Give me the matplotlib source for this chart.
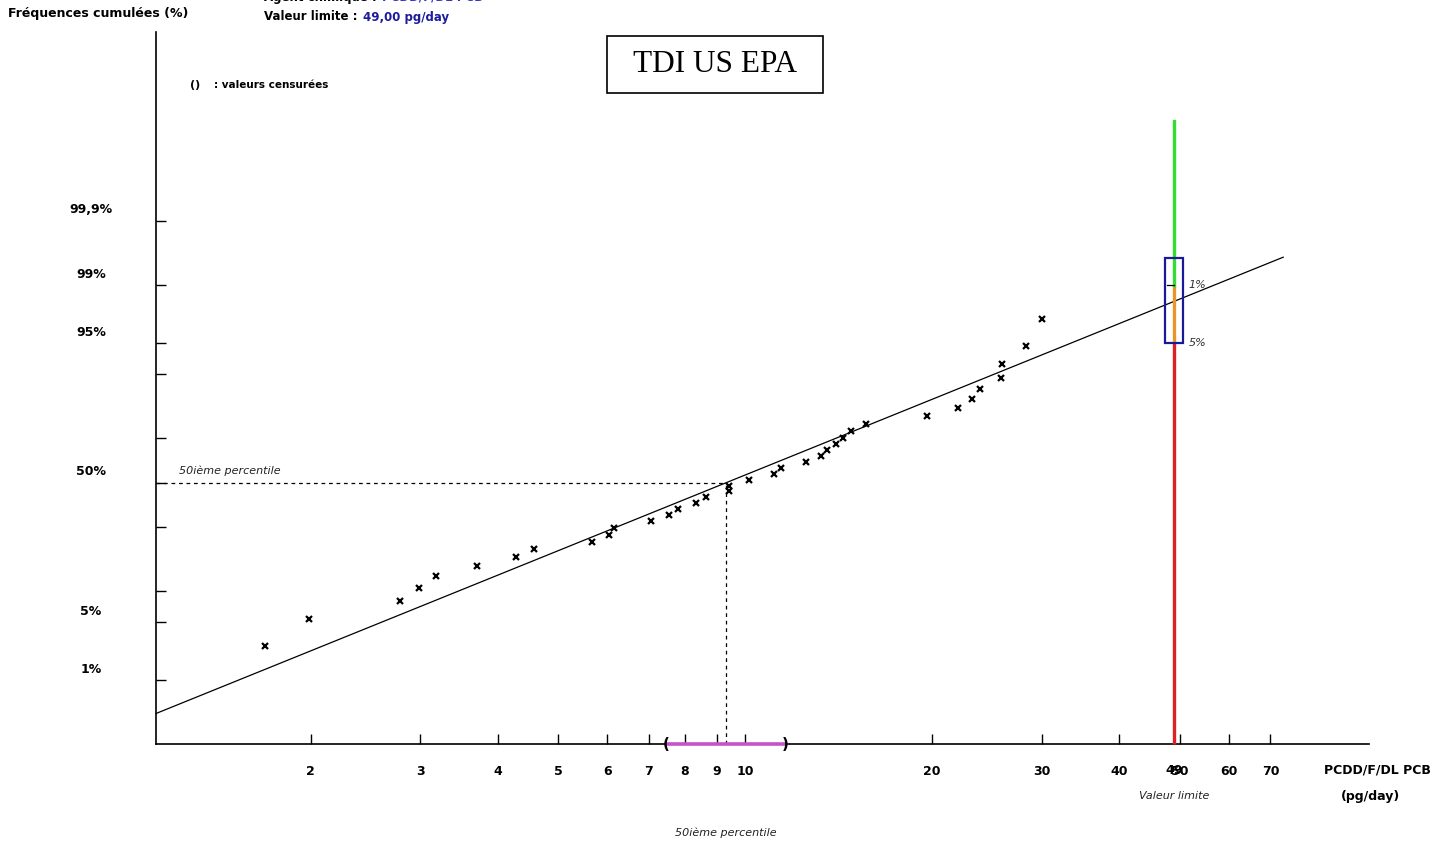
import numpy as np
import matplotlib
matplotlib.use("Agg")
import matplotlib.pyplot as plt
import matplotlib.transforms as mtransforms
from matplotlib.patches import Rectangle
from statistics import NormalDist

# data
x_values = [1.69, 1.99, 2.79, 2.99, 3.18, 3.71, 4.28, 4.58, 5.67, 6.05, 6.16, 7.06,
            7.55, 7.79, 8.35, 8.65, 9.41, 9.42, 10.14, 11.13, 11.44, 12.53, 13.24, 13.53,
            14.01, 14.39, 14.81, 15.64, 19.60, 22.01, 23.16, 23.91, 25.79, 25.91, 28.35, 30.05]
cum_freq = [2.7, 5.4, 8.1, 10.8, 13.5, 16.2, 18.9, 21.6, 24.3, 27.0, 29.7, 32.4,
            35.1, 37.8, 40.5, 43.2, 45.9, 48.6, 51.4, 54.1, 56.8, 59.5, 62.2, 64.9,
            67.6, 70.3, 73.0, 75.7, 78.4, 81.1, 83.8, 86.5, 89.2, 91.9, 94.6, 97.3]

fit_median = 9.32        # pg/day at 50 %
fit_sigma_log10 = 0.337  # log10 units per z
fit_x_end = 73.4
median_ci = [7.46, 11.6]
limit_value = 49.0
limit_levels = [95, 99, 99.999]   # red below, orange between, green above
limit_box = [95, 99.6]

x_ticks = [2, 3, 4, 5, 6, 7, 8, 9, 10, 20, 30, 40, 50, 60, 70]
y_labelled = [99.9, 99, 95, 50, 5, 1]
y_labels = ["99,9%", "99%", "95%", "50%", "5%", "1%"]
y_unlabelled = [90, 70, 30, 10]

W, H = 1447, 846
nd = NormalDist()


def z(p):
    return nd.inv_cdf(p / 100.0)


def fx(px):
    return px / W


def fy(py):
    return 1 - py / H


fig = plt.figure(figsize=(W / 100, H / 100), dpi=100)
ax = fig.add_axes([fx(156), fy(744), (1368.6 - 156) / W, (744 - 32) / H])
ax.set_xscale("log")
x_lo, x_hi = 1.128, 100.7
y_lo, y_hi = -3.081, 5.315
ax.set_xlim(x_lo, x_hi)
ax.set_ylim(y_lo, y_hi)

for s in ["top", "right"]:
    ax.spines[s].set_visible(False)
for s in ["left", "bottom"]:
    ax.spines[s].set_linewidth(1.2)

# x ticks
ax.xaxis.set_major_locator(matplotlib.ticker.FixedLocator(x_ticks))
ax.xaxis.set_minor_locator(matplotlib.ticker.NullLocator())
ax.set_xticklabels([str(t) for t in x_ticks], fontsize=9, fontweight="bold")
ax.tick_params(axis="x", direction="in", length=7, width=1, pad=15)

# y ticks
ax.set_yticks([z(p) for p in y_labelled + y_unlabelled])
ax.set_yticklabels([])
ax.yaxis.set_minor_locator(matplotlib.ticker.NullLocator())
ax.tick_params(axis="y", direction="in", length=7, width=1)
lab_tr = mtransforms.blended_transform_factory(fig.transFigure, ax.transData) + \
    mtransforms.ScaledTranslation(0, 0.11, fig.dpi_scale_trans)
for p, lab in zip(y_labelled, y_labels):
    ax.text(fx(91), z(p), lab, transform=lab_tr, ha="center", va="center",
            fontsize=9, fontweight="bold", clip_on=False)

# fitted line
xs = np.array([x_lo, fit_x_end])
zs = (np.log10(xs) - np.log10(fit_median)) / fit_sigma_log10
ax.plot(xs, zs, color="black", lw=0.9, clip_on=False)

# data points
ax.plot(x_values, [z(p) for p in cum_freq], ls="none", marker="x", ms=4,
        mew=1.6, color="black", clip_on=False)

# 50th percentile guides
ax.plot([x_lo, fit_median], [0, 0], color="black", lw=0.9, ls=(0, (3, 3)))
ax.plot([fit_median, fit_median], [y_lo, 0], color="black", lw=0.9, ls=(0, (3, 3)))
ax.text(1.23, 0.08, "50ième percentile", fontsize=8, style="italic", color="#222222",
        va="bottom", ha="left")

# confidence interval of the median
ax.plot(median_ci, [y_lo, y_lo], color="#c850c8", lw=2.6, solid_capstyle="butt",
        clip_on=False, zorder=5)
ax.text(median_ci[0], y_lo, "(", fontsize=11, fontweight="bold", ha="center",
        va="center", clip_on=False, zorder=6)
ax.text(median_ci[1], y_lo, ")", fontsize=11, fontweight="bold", ha="center",
        va="center", clip_on=False, zorder=6)

# limit value line
z95, z99, ztop = [z(p) for p in limit_levels]
ax.plot([limit_value] * 2, [y_lo, z95], color="#dd2020", lw=2.4, solid_capstyle="butt",
        clip_on=False, zorder=4)
ax.plot([limit_value] * 2, [z95, z99], color="#e8962a", lw=2.4, solid_capstyle="butt",
        zorder=4)
ax.plot([limit_value] * 2, [z99, ztop], color="#33dd33", lw=2.4, zorder=4)
ax.plot([limit_value / 1.025, limit_value], [z99, z99], color="black", lw=0.9, zorder=5)
bx0, bx1 = limit_value / 1.035, limit_value * 1.035
ax.add_patch(Rectangle((bx0, z(limit_box[0])), bx1 - bx0,
                       z(limit_box[1]) - z(limit_box[0]), fill=False,
                       edgecolor="#1a1a99", lw=1.6, zorder=6))
ax.text(limit_value * 1.055, z99, "1%", fontsize=8, style="italic", color="#333333",
        va="center", ha="left")
ax.text(limit_value * 1.055, z95, "5%", fontsize=8, style="italic", color="#333333",
        va="center", ha="left")

# limit value label under axis (overlaps the 50 tick label, as in the original)
bt = mtransforms.blended_transform_factory(ax.transData, fig.transFigure)
ax.text(limit_value, fy(770), "49", transform=bt, fontsize=9, fontweight="bold",
        ha="center", va="center", clip_on=False)
ax.text(limit_value, fy(796), "Valeur limite", transform=bt, fontsize=8,
        style="italic", color="#222222", ha="center", va="center", clip_on=False)
ax.text(fit_median, fy(833), "50ième percentile", transform=bt, fontsize=8,
        style="italic", color="#222222", ha="center", va="center", clip_on=False)

# axis titles and header
fig.text(fx(1377), fy(770), "PCDD/F/DL PCB", fontsize=9, fontweight="bold",
         ha="center", va="center")
fig.text(fx(1370), fy(796), "(pg/day)", fontsize=9, fontweight="bold",
         ha="center", va="center")
fig.text(fx(8), fy(14), "Fréquences cumulées (%)", fontsize=9, fontweight="bold",
         ha="left", va="center")

renderer = fig.canvas.get_renderer()


def two_part(y, left, right, color):
    t = fig.text(fx(264), fy(y), left, fontsize=8.5, fontweight="bold",
                 ha="left", va="center")
    x_end = t.get_window_extent(renderer).x1
    fig.text((x_end + 5) / W, fy(y), right, fontsize=8.5, fontweight="bold",
             color=color, ha="left", va="center")


two_part(-3, "Agent chimique :", "PCDD/F/DL PCB", "#3535c0")
two_part(17, "Valeur limite :", "49,00 pg/day", "#1c1c9c")

fig.text(fx(190), fy(85), "()", fontsize=8, fontweight="bold", ha="left", va="center")
fig.text(fx(214), fy(85), ": valeurs censurées", fontsize=7.5, fontweight="bold",
         ha="left", va="center")

# title box
fig.patches.append(Rectangle((fx(607), fy(93)), (823 - 607) / W, (93 - 36) / H,
                             transform=fig.transFigure, fill=False,
                             edgecolor="black", lw=1.2))
fig.text(fx(715), fy(65), "TDI US EPA", family="Liberation Serif", fontsize=22.5,
         ha="center", va="center")

fig.savefig("out.png", dpi=100)
